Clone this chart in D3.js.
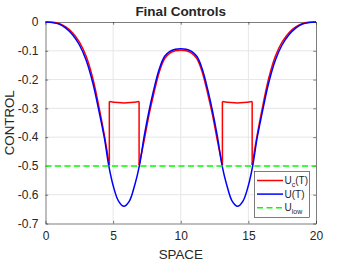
<!DOCTYPE html>
<html>
<head>
<meta charset="utf-8">
<script src="https://cdn.jsdelivr.net/npm/d3@7"></script>
<style>
  body { margin: 0; background: #fff; }
  text { font-family: "Liberation Sans", Arial, sans-serif; fill: #262626; }
</style>
</head>
<body>
<div id="graph"></div>
<script>
const w = 349;
const h = 262;
const plotL = 45.5, plotR = 316, plotT = 22, plotB = 223.5;

// U(T)
const uX = [0, 0.5, 1, 1.5, 2, 2.5, 3, 3.5, 4, 4.35, 4.68, 5, 5.4, 5.8, 6.2, 6.6, 6.94, 7.3, 7.65, 8, 8.4, 8.8, 9.2, 9.6, 10,
  10.4, 10.8, 11.2, 11.6, 12, 12.35, 12.7, 13.06, 13.4, 13.8, 14.2, 14.6, 15, 15.32, 15.65, 16, 16.5, 17, 17.5, 18, 18.5, 19, 19.5, 20];
const uY = [0, -0.002, -0.007, -0.021, -0.044, -0.079, -0.132, -0.212, -0.32, -0.402, -0.5, -0.568, -0.622, -0.64, -0.622, -0.566, -0.5, -0.396, -0.31, -0.236, -0.165, -0.12, -0.102, -0.095, -0.093,
  -0.095, -0.102, -0.12, -0.165, -0.236, -0.31, -0.396, -0.5, -0.566, -0.622, -0.64, -0.622, -0.568, -0.5, -0.402, -0.32, -0.212, -0.132, -0.079, -0.044, -0.021, -0.007, -0.002, 0];

// Uc(T)
const ucX = [0, 0.5, 1, 1.5, 2, 2.5, 3, 3.5, 4, 4.35, 4.72, 4.72, 5.82, 6.92, 6.92, 7.3, 7.65, 8, 8.4, 8.8, 9.2, 9.6, 10,
  10.4, 10.8, 11.2, 11.6, 12, 12.35, 12.7, 13.08, 13.08, 14.18, 15.28, 15.28, 15.65, 16, 16.5, 17, 17.5, 18, 18.5, 19, 19.5, 20];
const ucY = [0, -0.001, -0.005, -0.017, -0.037, -0.069, -0.118, -0.196, -0.306, -0.393, -0.497, -0.276, -0.281, -0.276, -0.497, -0.41, -0.323, -0.25, -0.176, -0.128, -0.108, -0.1, -0.098,
  -0.1, -0.108, -0.128, -0.176, -0.25, -0.323, -0.41, -0.497, -0.276, -0.281, -0.276, -0.497, -0.393, -0.306, -0.196, -0.118, -0.069, -0.037, -0.017, -0.005, -0.001, 0];

const uLow = -0.5;

const xTicks = [0, 5, 10, 15, 20];
const yTicks = [0, -0.1, -0.2, -0.3, -0.4, -0.5, -0.6, -0.7];
const yTickLabels = ["0", "-0.1", "-0.2", "-0.3", "-0.4", "-0.5", "-0.6", "-0.7"];

const xScale = d3.scaleLinear().domain([0, 20]).range([plotL, plotR]);
const yScale = d3.scaleLinear().domain([-0.7, 0]).range([plotB, plotT]);

const svg = d3.select("#graph").
append("svg").
attr("width", w).
attr("height", h);

// grid
svg.append("g").
selectAll("line").
data(xTicks.slice(1, -1)).
enter().
append("line").
attr("x1", d => xScale(d)).attr("x2", d => xScale(d)).
attr("y1", plotT).attr("y2", plotB).
attr("stroke", "#e6e6e6");

svg.append("g").
selectAll("line").
data(yTicks.slice(1, -1)).
enter().
append("line").
attr("x1", plotL).attr("x2", plotR).
attr("y1", d => yScale(d)).attr("y2", d => yScale(d)).
attr("stroke", "#e6e6e6");

// axes (box on, ticks inside)
const tl = 2.7;
const xAxis = d3.axisBottom(xScale).tickValues(xTicks).tickSizeInner(-tl).tickSizeOuter(0).tickPadding(8);
const yAxis = d3.axisLeft(yScale).tickValues(yTicks).tickFormat((d, i) => yTickLabels[i]).tickSizeInner(-tl).tickSizeOuter(0).tickPadding(7);

svg.append("g").
attr("transform", "translate(0," + plotB + ")").
call(xAxis);

svg.append("g").
attr("transform", "translate(" + plotL + ",0)").
call(yAxis);

svg.append("g").
attr("transform", "translate(0," + plotT + ")").
call(d3.axisTop(xScale).tickValues(xTicks).tickSizeInner(-tl).tickSizeOuter(0).tickFormat(""));

svg.append("g").
attr("transform", "translate(" + plotR + ",0)").
call(d3.axisRight(yScale).tickValues(yTicks).tickSizeInner(-tl).tickSizeOuter(0).tickFormat(""));

svg.selectAll(".domain, .tick line").
attr("stroke", "#262626").
attr("stroke-width", 0.6);
svg.selectAll(".tick text").
attr("fill", "#262626").
style("font-size", "12px");

// lines
const line = d3.line().
x(d => xScale(d[0])).
y(d => yScale(d[1])).
curve(d3.curveCatmullRom);

// split series where x repeats (vertical jumps)
function pieces(xs, ys) {
  const segs = [];
  let cur = [];
  for (let i = 0; i < xs.length; i++) {
    if (i > 0 && xs[i] === xs[i - 1]) {
      segs.push(cur);
      segs.push([[xs[i - 1], ys[i - 1]], [xs[i], ys[i]]]);
      cur = [];
    }
    cur.push([xs[i], ys[i]]);
  }
  segs.push(cur);
  return segs;
}

svg.append("g").
selectAll("path").
data(pieces(ucX, ucY)).
enter().
append("path").
attr("d", d => line(d)).
attr("fill", "none").
attr("stroke", "#ff0000").
attr("stroke-width", 1.5).
attr("stroke-linejoin", "round");

svg.append("path").
attr("d", line(uX.map((x, i) => [x, uY[i]]))).
attr("fill", "none").
attr("stroke", "#0000ff").
attr("stroke-width", 1.5);

svg.append("line").
attr("x1", xScale(0)).attr("x2", xScale(20)).
attr("y1", yScale(uLow)).attr("y2", yScale(uLow)).
attr("stroke", "#00ff00").
attr("stroke-width", 1.5).
attr("stroke-dasharray", "6,3.5");

// titles
svg.append("text").
attr("x", (plotL + plotR) / 2).
attr("y", 16).
attr("text-anchor", "middle").
style("font-size", "13.5px").
style("font-weight", "bold").
text("Final Controls");

svg.append("text").
attr("x", (plotL + plotR) / 2).
attr("y", 259).
attr("text-anchor", "middle").
style("font-size", "13.3px").
text("SPACE");

svg.append("text").
attr("transform", "translate(14," + (plotT + plotB) / 2 + ") rotate(-90)").
attr("text-anchor", "middle").
style("font-size", "13.3px").
text("CONTROL");

// legend
const lg = svg.append("g");
lg.append("rect").
attr("x", 254.5).attr("y", 171.5).
attr("width", 55).attr("height", 46).
attr("fill", "#fff").
attr("stroke", "#262626").
attr("stroke-width", 0.6);

const items = [
  { c: "#ff0000", dash: null, base: "U", sub: "c", tail: "(T)" },
  { c: "#0000ff", dash: null, base: "U(T)", sub: "", tail: "" },
  { c: "#00ff00", dash: "6,3.5", base: "U", sub: "low", tail: "" }
];
items.forEach((it, i) => {
  const yy = 180.5 + i * 13.6;
  lg.append("line").
  attr("x1", 257).attr("x2", 283).
  attr("y1", yy).attr("y2", yy).
  attr("stroke", it.c).
  attr("stroke-width", 1.5).
  attr("stroke-dasharray", it.dash);
  const t = lg.append("text").
  attr("x", 284.5).
  attr("y", yy + 3.5).
  style("font-size", "10px");
  t.append("tspan").text(it.base);
  if (it.sub) {
    t.append("tspan").attr("dy", 3).style("font-size", "7px").text(it.sub);
    if (it.tail) t.append("tspan").attr("dy", -3).text(it.tail);
  }
});
</script>
</body>
</html>
